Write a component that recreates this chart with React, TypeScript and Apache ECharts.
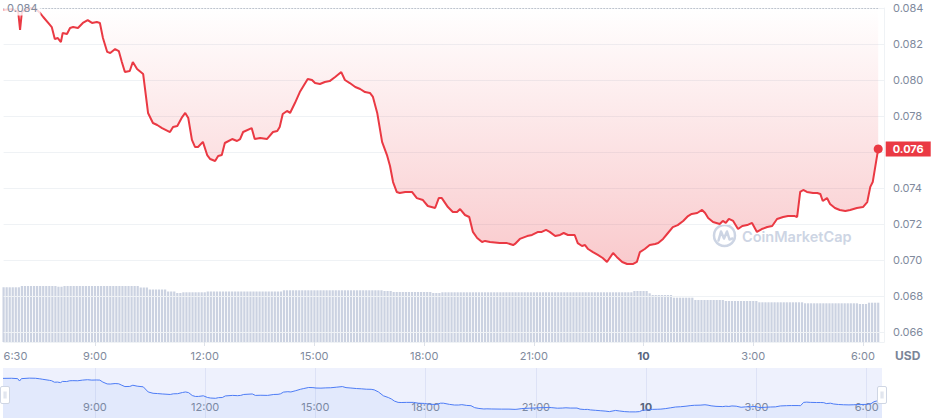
import React, { useEffect, useRef } from 'react';
import * as echarts from 'echarts';

// ---- price line (clock times read along the x axis; prices in USD) ----
const priceTimes = [
  '06:30','06:44','06:54','06:57','07:00','07:13','07:23','07:30','07:35','07:46','07:49','07:54','07:59','08:04','08:07','08:14','08:19','08:24','08:32','08:40','08:48','08:55',
  '09:03','09:08','09:13','09:20','09:25','09:33','09:39','09:44','09:49','09:57','10:02','10:09','10:19','10:27','10:35','10:42','10:50',
  '11:03','11:08','11:15','11:23','11:28','11:33','11:39','11:44','11:49','11:57','12:04','12:09','12:17','12:22','12:28','12:33','12:45','12:53','12:58',
  '13:03','13:17','13:22','13:31','13:42','13:52','13:59','14:03','14:08','14:15','14:20','14:28','14:36','14:41','14:49','14:56',
  '15:01','15:09','15:17','15:25','15:34','15:44','15:50','15:58','16:07','16:15','16:23','16:31','16:36','16:43','16:51','16:59',
  '17:04','17:09','17:15','17:20','17:29','17:40','17:48','17:58','18:06','18:18','18:24','18:29','18:39','18:47','18:54','18:59',
  '19:07','19:14','19:20','19:27','19:35','19:40','19:48','20:04','20:16','20:26','20:29','20:37','20:49','20:57',
  '21:07','21:13','21:20','21:26','21:35','21:43','21:49','21:56','22:07','22:12','22:19','22:24','22:29','22:37','22:45','22:53',
  '23:00','23:10','23:16','23:25','23:33','23:43','23:49','23:54',
  '00:02','00:10','00:19','00:24','00:32','00:40','00:48','00:56','01:05','01:13','01:19','01:28','01:36','01:41','01:46','01:54',
  '02:05','02:10','02:15','02:20','02:27','02:35','02:42','02:50','02:58','03:06','03:14','03:23','03:31','03:39','03:49','03:57',
  '04:08','04:12','04:17','04:22','04:28','04:38','04:45','04:50','04:54','05:01','05:06','05:14','05:22','05:31','05:39','05:50',
  '06:00','06:07','06:12','06:16','06:25',
];
const prices = [
  0.08389,0.08394,0.08378,0.08278,0.08378,0.08400,0.08394,0.08372,0.08350,0.08306,0.08294,0.08228,0.08233,0.08211,0.08261,0.08256,0.08289,0.08294,0.08289,0.08317,0.08333,0.08317,
  0.08322,0.08317,0.08233,0.08156,0.08150,0.08172,0.08161,0.08100,0.08044,0.08050,0.08100,0.08061,0.08033,0.07817,0.07761,0.07750,0.07733,
  0.07711,0.07739,0.07744,0.07794,0.07817,0.07789,0.07667,0.07628,0.07628,0.07656,0.07583,0.07561,0.07550,0.07578,0.07583,0.07650,0.07672,0.07661,0.07672,
  0.07711,0.07733,0.07672,0.07678,0.07672,0.07711,0.07717,0.07739,0.07811,0.07828,0.07817,0.07872,0.07933,0.07961,0.08006,0.08000,
  0.07983,0.07978,0.07989,0.07994,0.08017,0.08044,0.08000,0.07983,0.07961,0.07950,0.07933,0.07928,0.07906,0.07817,0.07656,0.07583,
  0.07522,0.07433,0.07378,0.07372,0.07378,0.07378,0.07344,0.07333,0.07300,0.07289,0.07344,0.07344,0.07294,0.07267,0.07267,0.07283,
  0.07250,0.07239,0.07156,0.07122,0.07100,0.07106,0.07100,0.07094,0.07094,0.07083,0.07089,0.07117,0.07133,0.07139,
  0.07156,0.07156,0.07167,0.07156,0.07133,0.07139,0.07150,0.07139,0.07139,0.07094,0.07078,0.07083,0.07061,0.07044,0.07028,0.07011,
  0.06989,0.07039,0.07017,0.06989,0.06978,0.06978,0.06989,0.07044,
  0.07061,0.07083,0.07089,0.07094,0.07117,0.07150,0.07183,0.07194,0.07217,0.07244,0.07256,0.07261,0.07278,0.07261,0.07233,0.07211,
  0.07200,0.07217,0.07206,0.07228,0.07217,0.07172,0.07189,0.07194,0.07206,0.07156,0.07172,0.07183,0.07189,0.07228,0.07239,0.07244,
  0.07244,0.07239,0.07378,0.07389,0.07378,0.07372,0.07372,0.07367,0.07328,0.07344,0.07311,0.07289,0.07278,0.07272,0.07278,0.07289,
  0.07294,0.07322,0.07406,0.07433,0.07617,
];

// ---- volume bars: one bar every 5 minutes from 06:30 ----
const volumeStart = '06:30';
const volumeStepMinutes = 5;
const volumes = [
  54.7,54.7,54.7,54.7,54.7,54.7,56,56,56,56,56,56,
  56,56,56,56,56,56,55.3,55.3,56,56,56,56,
  56,56,56,56,56,56,56,56,56,56,56,56,
  56,56,56,56,56,56,56,56,56,54.5,54.5,54.5,
  52.5,52.5,52.5,52.5,52.5,52.5,50.5,50.5,50.5,49,49,49.7,
  49.7,49.7,49.7,49.7,49.7,49.7,49.7,50.5,50.5,50.5,50.5,50.5,
  50.5,50.5,50.5,50.5,50.5,50.5,50.5,50.5,50.5,50.5,50.5,50.5,
  50.5,50.5,50.5,50.5,50.5,50.5,50.5,50.5,51.7,51.7,51.7,51.7,
  51.7,51.7,51.7,51.7,51.7,51.7,51.7,51.7,51.7,51.7,51.7,51.7,
  51.7,51.7,51.7,51.7,51.7,51.7,51.7,51.7,51.7,51.7,51.7,51.7,
  51.7,51.7,51.7,51.7,51.7,51,51,51,50,50,50,50,
  50,50,50,50,50,50,50,50,50,49,49,49,
  49.7,49.7,49.7,49.7,49.7,49.7,49.7,49.7,49.7,49.7,49.7,49.7,
  49.7,49.7,49.7,49.7,49.7,49.7,49.7,49.7,49.7,49.7,49.7,49.7,
  49.7,49.7,49.7,49.7,49.7,49.7,49.7,49.7,49.7,49.7,49.7,49.7,
  49.7,49.7,49.7,49.7,49.7,49.7,49.7,49.7,49.7,49.7,49.7,49.7,
  49.7,49.7,49.7,49.7,49.7,49.7,49.7,49.7,49.7,49.7,49.7,49.7,
  49.7,49.7,49.7,51,51,51,51,51,48.7,47,47,47,
  47,47,47,47,44.3,44.3,44.3,44.3,44.3,44.3,44.3,42,
  42,42,42,42,42,42,42,42,42,41,41,41,
  41,41,41,41,41,41,41,41,39.7,39.7,39.7,39.7,
  39.7,39.7,39.7,39.7,39.7,39.7,39.7,39.7,39.7,39.7,39.7,38.7,
  38.7,38.7,38.7,38.7,38.7,38.7,38.7,38.7,38.7,38.7,38.7,38.7,
  38.7,38.7,38.7,38.7,38.7,38,38,38,39.3,39.3,39.3,39.3,
];

// ---- axis ----
const windowStart = '06:30';
const windowLengthMinutes = 1444.5; // 06:30 → 06:34:30 next day
const tickTimes = ['09:00', '12:00', '15:00', '18:00', '21:00', '00:00', '03:00', '06:00'];
const tickLabels = ['9:00', '12:00', '15:00', '18:00', '21:00', '10', '3:00', '6:00'];
const startLabel = '6:30';
const priceTicks = { min: 0.066, max: 0.084, step: 0.002 };

const clockToTs = (clock: string) => {
  const [h, m] = clock.split(':').map(Number);
  const day = h * 60 + m < 6 * 60 + 30 ? 1 : 0;
  return new Date(2024, 0, 9 + day, h, m).getTime();
};

export default function App() {
  const ref = useRef<HTMLDivElement>(null);

  useEffect(() => {
    document.body.style.margin = '0';
    if (!ref.current) return;
    const chart = echarts.init(ref.current, null, { renderer: 'svg' });

    const priceData = priceTimes.map((t, i) => [clockToTs(t), prices[i]]);
    const vStart = clockToTs(volumeStart);
    const volData = volumes.map((v, i) => [vStart + i * volumeStepMinutes * 60000, v]);
    const axisMin = clockToTs(windowStart);
    const axisMax = axisMin + windowLengthMinutes * 60000;
    const tickTs = tickTimes.map(clockToTs);
    const labelTs = [axisMin, ...tickTs];
    const labelTexts = [startLabel, ...tickLabels];
    const maxPrice = Math.max(...prices);
    const lastPrice = prices[prices.length - 1];
    const firstTs = priceData[0][0];
    const lastTs = priceData[priceData.length - 1][0];
    const lastText = lastPrice.toFixed(3);

    const fmt = (v: number) => {
      const i = labelTs.findIndex((t) => Math.abs(t - v) < 1000);
      if (i < 0) return '';
      const s = labelTexts[i];
      return s.indexOf(':') < 0 ? `{b|${s}}` : s;
    };
    const gray = '#808a9d';
    const rich = { b: { fontWeight: 'bold', color: '#58667e', fontSize: 11, fontFamily: 'Inter' } };
    const wm = '#cdd5e4';
    const lx = 724.5, ly = 235.5;

    chart.setOption({
      animation: false,
      textStyle: { fontFamily: 'Inter, sans-serif' },
      grid: [
        { left: 3.6, right: 48, top: 8, bottom: 86, containLabel: false, outerBoundsMode: 'none' },
        { left: 3.6, right: 48, top: 8, bottom: 76, containLabel: false, outerBoundsMode: 'none' },
        { left: 3, right: 50, top: 368, height: 54, show: true, backgroundColor: '#eef1fd', borderWidth: 0, containLabel: false, outerBoundsMode: 'none' },
      ],
      xAxis: [
        { type: 'value', gridIndex: 0, min: axisMin, max: axisMax, show: false, splitLine: { show: false } },
        {
          type: 'value', gridIndex: 1, min: axisMin, max: axisMax,
          axisLine: { show: true, lineStyle: { color: '#eff2f5' } },
          axisTick: { show: true, customValues: tickTs, length: 4, lineStyle: { color: '#dfe3ea' } },
          axisLabel: { customValues: labelTs, formatter: fmt, color: gray, fontSize: 11, margin: 8, alignMinLabel: 'left', rich },
          splitLine: { show: false },
        },
        {
          type: 'value', gridIndex: 2, min: firstTs, max: lastTs,
          axisLine: { show: false },
          axisTick: { show: false, customValues: tickTs },
          axisLabel: { inside: true, customValues: tickTs, formatter: fmt, color: gray, fontSize: 11, margin: 10, rich },
          splitLine: { show: true, lineStyle: { color: '#dde2f6' } },
        },
      ],
      yAxis: [
        {
          type: 'value', gridIndex: 0, position: 'right', min: priceTicks.min, max: priceTicks.max, interval: priceTicks.step, z: 3,
          axisLine: { show: false }, axisTick: { show: false },
          axisLabel: {
            formatter: (v: number) => (v.toFixed(3) === lastText ? '' : v.toFixed(3)),
            color: gray, fontSize: 11, margin: 9,
          },
          splitLine: { show: true, lineStyle: { color: '#eff2f5' } },
        },
        {
          type: 'value', gridIndex: 1, position: 'right', min: 0, max: 334,
          axisLine: { show: true, lineStyle: { color: '#eff2f5' } }, axisTick: { show: false },
          axisLabel: { show: false }, splitLine: { show: false },
        },
        {
          type: 'value', gridIndex: 2, show: false, splitLine: { show: false },
          min: (e: any) => e.min - 0.3 * (e.max - e.min),
          max: (e: any) => e.max + 0.3 * (e.max - e.min),
        },
      ],
      dataZoom: [{
        type: 'slider', xAxisIndex: 2, filterMode: 'none', start: 0, end: 100,
        left: 3, right: 50, top: 368, height: 54,
        showDataShadow: false, showDetail: false, brushSelect: false,
        backgroundColor: 'rgba(0,0,0,0)', fillerColor: 'rgba(0,0,0,0)', borderColor: 'rgba(0,0,0,0)',
        moveHandleSize: 0, moveHandleStyle: { opacity: 0 },
        handleIcon: 'path://M1.5,0h6a1.5,1.5,0,0,1,1.5,1.5v14a1.5,1.5,0,0,1-1.5,1.5h-6a1.5,1.5,0,0,1-1.5-1.5v-14a1.5,1.5,0,0,1,1.5-1.5Z M3.6,5v7 M5.4,5v7',
        handleSize: 17,
        handleStyle: { color: '#ffffff', borderColor: '#cfd6e4', borderWidth: 1 },
      }],
      series: [
        {
          type: 'bar', xAxisIndex: 1, yAxisIndex: 1, data: volData, barWidth: 2.2, clip: false, silent: true, z: 2,
          itemStyle: { color: '#cbd2e1' },
        },
        {
          type: 'line', xAxisIndex: 0, yAxisIndex: 0, data: priceData, symbol: 'none', z: 4, silent: true,
          lineStyle: { color: '#ea3943', width: 2 },
          areaStyle: {
            origin: 'end',
            color: new echarts.graphic.LinearGradient(0, 0, 0, 1, [
              { offset: 0, color: 'rgba(234,57,67,0)' },
              { offset: 1, color: 'rgba(234,57,67,0.38)' },
            ]),
          },
          markLine: {
            silent: true, symbol: ['none', 'none'], label: { show: false },
            lineStyle: { color: '#9ba3b1', width: 1, type: [1, 2] },
            data: [[{ coord: [firstTs, maxPrice] }, { coord: [lastTs, maxPrice] }]],
          },
          markPoint: {
            silent: true,
            data: [
              {
                coord: [lastTs, lastPrice], symbol: 'circle', symbolSize: 9, itemStyle: { color: '#ea3943' },
                label: {
                  show: true, position: 'right', distance: 3, formatter: lastText,
                  color: '#ffffff', backgroundColor: '#ea3943', fontWeight: 'bold', fontSize: 11,
                  lineHeight: 11, padding: [2, 7], fontFamily: 'Inter',
                },
              },
              {
                coord: [firstTs, maxPrice], symbol: 'circle', symbolSize: 1, itemStyle: { color: 'rgba(0,0,0,0)' },
                label: {
                  show: true, position: 'right', distance: 0, formatter: maxPrice.toFixed(3),
                  color: gray, fontSize: 11, fontFamily: 'Inter',
                  backgroundColor: 'rgba(255,255,255,0.8)', padding: [2, 3],
                },
              },
            ],
          },
        },
        {
          type: 'line', xAxisIndex: 2, yAxisIndex: 2, data: priceData, symbol: 'none', silent: true,
          lineStyle: { color: '#4d7cf5', width: 1 },
          areaStyle: { origin: 'start', color: 'rgba(77,124,245,0.1)' },
        },
      ],
      graphic: [
        { type: 'circle', z: 1, silent: true, shape: { cx: lx, cy: ly, r: 10.5 }, style: { fill: 'none', stroke: wm, lineWidth: 2.5 } },
        {
          type: 'polyline', z: 1, silent: true,
          shape: { points: [[lx - 6, ly + 5], [lx - 3.5, ly - 4], [lx - 0.5, ly + 3], [lx + 2.5, ly - 4], [lx + 5, ly + 4], [lx + 8, ly + 3]] },
          style: { fill: 'none', stroke: wm, lineWidth: 2.5, lineJoin: 'round', lineCap: 'round' },
        },
        {
          type: 'text', z: 1, silent: true, x: 742, y: 236,
          style: { text: 'CoinMarketCap', fill: wm, fontSize: 14.5, fontWeight: 600, fontFamily: 'Inter', verticalAlign: 'middle' },
        },
        {
          type: 'text', silent: true, x: 895, y: 355,
          style: { text: 'USD', fill: '#7b8598', fontSize: 12, fontWeight: 'bold', fontFamily: 'Inter', verticalAlign: 'middle' },
        },
      ],
    });

    return () => chart.dispose();
  }, []);

  return <div ref={ref} style={{ width: 932, height: 418 }} />;
}
